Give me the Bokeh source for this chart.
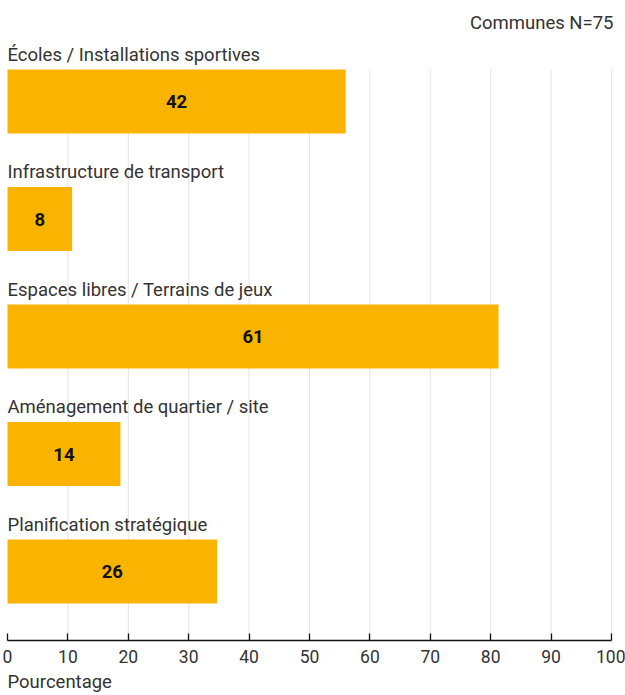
from bokeh.plotting import figure
from bokeh.models import Range1d, Label, FixedTicker, ColumnDataSource, Title
from bokeh.core.properties import value
from bokeh.embed import file_html
from bokeh.resources import INLINE

categories = [
    "Écoles / Installations sportives",
    "Infrastructure de transport",
    "Espaces libres / Terrains de jeux",
    "Aménagement de quartier / site",
    "Planification stratégique",
]
counts = [42, 8, 61, 14, 26]
percentages = [56.0, 10.7, 81.3, 18.7, 34.7]
x_ticks = [0, 10, 20, 30, 40, 50, 60, 70, 80, 90, 100]
subtitle = "Communes N=75"
x_axis_label = "Pourcentage"

FONT = "Roboto"
BAR_COLOR = "#FAB400"
TEXT_COLOR = "#333333"
BAR_H = 0.545

pos = list(range(len(categories)))

src = ColumnDataSource(dict(
    y=pos,
    pct=percentages,
    mid=[v / 2 for v in percentages],
    cnt=[str(c) for c in counts],
    cat=categories,
    cat_y=[i - 0.4 for i in pos],
))

p = figure(width=625, height=695, output_backend="svg", toolbar_location=None,
           x_range=Range1d(-1.16, 102.32), y_range=Range1d(4.587, -0.8596),
           y_axis_location=None,
           min_border_left=0, min_border_right=0, min_border_top=0, min_border_bottom=55)
p.outline_line_color = None
p.xgrid.visible = False
p.ygrid.visible = False
p.background_fill_color = "white"

grid_x = x_ticks[1:]
p.segment(x0=grid_x, x1=grid_x, y0=[-BAR_H / 2] * len(grid_x),
          y1=[p.y_range.start] * len(grid_x), line_color="#e3e3e3", line_width=1)

p.hbar(y="y", left=0, right="pct", height=BAR_H, source=src,
       fill_color=BAR_COLOR, line_color=None)

p.text(x="mid", y="y", text="cnt", source=src, text_align="center",
       text_baseline="middle", text_font=value(FONT), text_font_size="18.5px",
       text_font_style="bold", text_color="#111111")

p.text(x=0, y="cat_y", text="cat", source=src, text_align="left",
       text_baseline="middle", text_font=value(FONT), text_font_size="18.5px",
       text_color=TEXT_COLOR)

ax = p.xaxis[0]
ax.ticker = FixedTicker(ticks=x_ticks)
ax.bounds = (x_ticks[0], x_ticks[-1])
ax.axis_line_color = "#111111"
ax.axis_line_width = 1.3
ax.major_tick_line_color = "#111111"
ax.major_tick_line_width = 1.3
ax.major_tick_in = 7
ax.major_tick_out = 0
ax.minor_tick_line_color = None
ax.major_label_text_font = FONT
ax.major_label_text_font_size = "17.5px"
ax.major_label_text_color = TEXT_COLOR
ax.major_label_standoff = 9

p.add_layout(Label(x=100, y=-0.672, x_offset=2, text=subtitle, text_align="right",
                   text_baseline="middle", text_font=FONT, text_font_size="18.5px",
                   text_color=TEXT_COLOR))
p.add_layout(Title(text=x_axis_label, align="left", offset=7, text_font=FONT,
                   text_font_size="18.5px", text_font_style="normal",
                   text_color=TEXT_COLOR, standoff=6), "below")

open("out.html", "w").write(file_html(p, INLINE))
